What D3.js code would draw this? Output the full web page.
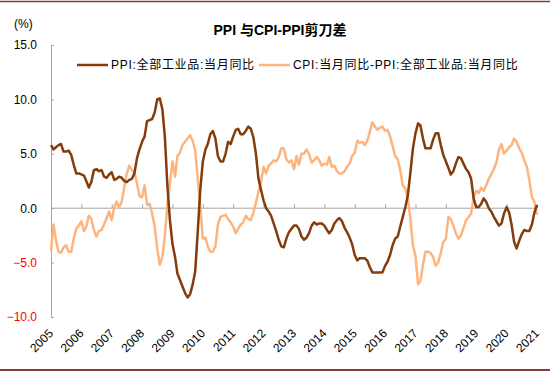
<!DOCTYPE html>
<html>
<head>
<meta charset="utf-8">
<script src="https://cdn.jsdelivr.net/npm/d3@7"></script>
<style>
  body { margin: 0; background: #fff; }
  svg text { font-family: "Liberation Sans", Arial, "Noto Sans CJK SC", sans-serif; }
</style>
</head>
<body>
<div id="chart"></div>
<script>
// monthly data, Jan 2005 .. Jan 2021
const startMonth = new Date(2005, 0, 1);

const ppi = [
  5.8, 5.4, 5.6, 5.8, 5.9, 5.2, 5.2, 5.3, 4.9, 4.0, 3.2, 3.2,
  3.1, 3.0, 2.5, 1.9, 2.4, 3.5, 3.6, 3.4, 3.5, 2.9, 2.8, 3.1,
  3.3, 2.6, 2.7, 2.9, 2.8, 2.5, 2.4, 2.6, 2.7, 3.2, 4.6, 5.4,
  6.1, 6.6, 8.0, 8.1, 8.2, 8.8, 10.0, 10.1, 9.1, 6.6, 2.0, -1.1,
  -3.3, -4.5, -6.0, -6.6, -7.2, -7.8, -8.2, -7.9, -7.0, -5.8, -2.1, 1.7,
  4.3, 5.4, 5.9, 6.8, 7.1, 6.4, 4.8, 4.3, 4.3, 5.0, 6.1, 5.9,
  6.6, 7.2, 7.3, 6.8, 6.8, 7.1, 7.5, 7.3, 6.5, 5.0, 2.7, 1.7,
  0.7, 0.0, -0.3, -0.7, -1.4, -2.1, -2.9, -3.5, -3.6, -2.8, -2.2, -1.9,
  -1.6, -1.6, -1.9, -2.6, -2.9, -2.7, -2.3, -1.6, -1.3, -1.5, -1.4, -1.4,
  -1.6, -2.0, -2.3, -2.0, -1.4, -1.1, -0.9, -1.2, -1.8, -2.2, -2.7, -3.3,
  -4.3, -4.8, -4.6, -4.6, -4.6, -4.8, -5.4, -5.9, -5.9, -5.9, -5.9, -5.9,
  -5.3, -4.9, -4.3, -3.4, -2.8, -2.6, -1.7, -0.8, 0.1, 1.2, 3.3, 5.5,
  6.9, 7.8, 7.6, 6.4, 5.5, 5.5, 5.5, 6.3, 6.9, 6.9, 5.8, 4.9,
  4.3, 3.7, 3.1, 3.4, 4.1, 4.7, 4.6, 4.1, 3.6, 3.3, 2.7, 0.9,
  0.1, 0.1, 0.4, 0.9, 0.6, 0.0, -0.3, -0.8, -1.2, -1.6, -1.4, -0.5,
  0.1, -0.4, -1.5, -3.1, -3.7, -3.0, -2.4, -2.0, -2.1, -2.1, -1.5, -0.4,
  0.3
];

const spread = [
  -3.9, -1.5, -2.9, -4.0, -4.1, -3.6, -3.4, -4.0, -4.0, -2.8, -1.9, -1.6,
  -1.2, -2.1, -1.7, -0.7, -1.0, -2.0, -2.6, -2.1, -2.0, -1.5, -0.9, -0.3,
  -1.1, 0.1, 0.6, 0.1, 0.6, 1.9, 3.2, 3.9, 3.5, 3.3, 2.3, 1.1,
  1.0, 2.1, 0.3, 0.4, -0.5, -1.7, -3.7, -5.2, -4.5, -2.6, 0.4, 2.3,
  4.3, 2.9, 4.8, 5.1, 5.8, 6.1, 6.4, 6.7, 6.2, 5.3, 2.7, 0.2,
  -2.8, -2.7, -3.5, -4.0, -4.0, -3.5, -1.5, -0.8, -0.7, -0.6, -1.0, -1.3,
  -1.7, -2.3, -1.9, -1.5, -1.3, -0.7, -1.0, -1.1, -0.4, 0.5, 1.5, 2.4,
  3.8, 3.2, 3.9, 4.1, 4.4, 4.3, 4.7, 5.5, 5.5, 4.5, 4.2, 4.4,
  3.6, 4.8, 4.0, 5.0, 5.0, 5.4, 5.0, 4.2, 4.4, 4.7, 4.4, 3.9,
  4.1, 4.0, 4.7, 3.8, 3.9, 3.4, 3.2, 3.2, 3.4, 3.8, 4.1, 4.8,
  5.1, 6.2, 6.0, 6.1, 5.8, 6.2, 7.0, 7.9, 7.5, 7.2, 7.4, 7.5,
  7.1, 7.2, 6.6, 5.7, 4.8, 4.5, 3.5, 2.1, 1.8, 0.9, -1.0, -3.4,
  -4.4, -7.0, -6.7, -5.2, -4.0, -4.0, -4.1, -4.5, -5.3, -5.0, -4.1, -3.1,
  -2.8, -0.8, -1.0, -1.6, -2.3, -2.8, -2.5, -1.8, -1.1, -0.8, -0.5, 1.0,
  1.6, 1.4, 1.9, 1.6, 2.1, 2.7, 3.1, 3.6, 4.2, 5.4, 5.9, 5.0,
  5.3, 5.6, 5.8, 6.4, 6.1, 5.5, 5.1, 4.4, 3.8, 2.6, 1.0, 0.6,
  -0.6
];

const yearTicks = d3.range(2005, 2022);
const yTicks = [-10, -5, 0, 5, 10, 15];
const seriesNames = ["PPI:全部工业品:当月同比", "CPI:当月同比-PPI:全部工业品:当月同比"];
const colors = ["#843C0C", "#FDB57F"];

const width = 550, height = 372;

const svg = d3.select("#chart")
  .append("svg")
    .attr("width", width)
    .attr("height", height);

// frame lines top and bottom
svg.append("line").attr("x1", 0).attr("x2", width).attr("y1", 1.5).attr("y2", 1.5)
  .attr("stroke", "#8B3A3A").attr("stroke-width", 1.5);
svg.append("line").attr("x1", 0).attr("x2", width).attr("y1", 370).attr("y2", 370)
  .attr("stroke", "#8B3A3A").attr("stroke-width", 2);

const dates = ppi.map((d, i) => d3.timeMonth.offset(startMonth, i));

const x = d3.scaleTime()
  .domain([new Date(2005, 0, 1), new Date(2021, 0, 1)])
  .range([51, 537]);

const y = d3.scaleLinear()
  .domain([-10, 15])
  .range([317, 45]);

// y axis
const yAxis = svg.append("g")
  .attr("transform", "translate(51,0)")
  .call(d3.axisLeft(y).tickValues(yTicks).tickSize(-3).tickFormat(d3.format(".1f")));
yAxis.select(".domain").attr("stroke", "#A6A6A6");
yAxis.selectAll(".tick line").attr("stroke", "#A6A6A6");
yAxis.selectAll(".tick text")
  .attr("x", -14)
  .style("font-size", "12px")
  .style("font-family", "Liberation Sans, Arial, sans-serif")
  .attr("fill", d => d < 0 ? "#FF0000" : "#000");

// x axis on zero line
const xAxis = svg.append("g")
  .attr("transform", `translate(0,${y(0)})`)
  .call(d3.axisBottom(x).tickValues(yearTicks.map(yr => new Date(yr, 0, 1))).tickSize(-4).tickFormat(""));
xAxis.select(".domain").attr("stroke", "#A6A6A6").attr("d", `M51,0H537`);
xAxis.selectAll(".tick line").attr("stroke", "#A6A6A6");

// year labels at bottom
svg.append("g")
  .selectAll("text")
  .data(yearTicks)
  .join("text")
    .attr("transform", d => `translate(${x(new Date(d, 0, 1)) + 3},${334}) rotate(-45)`)
    .attr("text-anchor", "end")
    .style("font-size", "12px")
    .text(d => d);

// lines
const line = d3.line()
  .x((d, i) => x(dates[i]))
  .y(d => y(d));

svg.append("path")
  .datum(spread)
  .attr("d", line)
  .attr("fill", "none")
  .attr("stroke", colors[1])
  .attr("stroke-width", 2.5)
  .attr("stroke-linejoin", "round");

svg.append("path")
  .datum(ppi)
  .attr("d", line)
  .attr("fill", "none")
  .attr("stroke", colors[0])
  .attr("stroke-width", 2.5)
  .attr("stroke-linejoin", "round");

// title
svg.append("text")
  .attr("x", 280).attr("y", 35)
  .attr("text-anchor", "middle")
  .style("font-size", "14px")
  .style("font-weight", "bold")
  .text("PPI 与CPI-PPI剪刀差");

svg.append("text")
  .attr("x", 14).attr("y", 28)
  .style("font-size", "12px")
  .text("(%)");

// legend
const legendX = [77, 259];
seriesNames.forEach((name, i) => {
  svg.append("line")
    .attr("x1", legendX[i]).attr("x2", legendX[i] + 31)
    .attr("y1", 65).attr("y2", 65)
    .attr("stroke", colors[i]).attr("stroke-width", 2.5);
  svg.append("text")
    .attr("x", legendX[i] + 34).attr("y", 69)
    .style("font-size", "12px")
    .style("letter-spacing", "0.7px")
    .text(name);
});
</script>
</body>
</html>
